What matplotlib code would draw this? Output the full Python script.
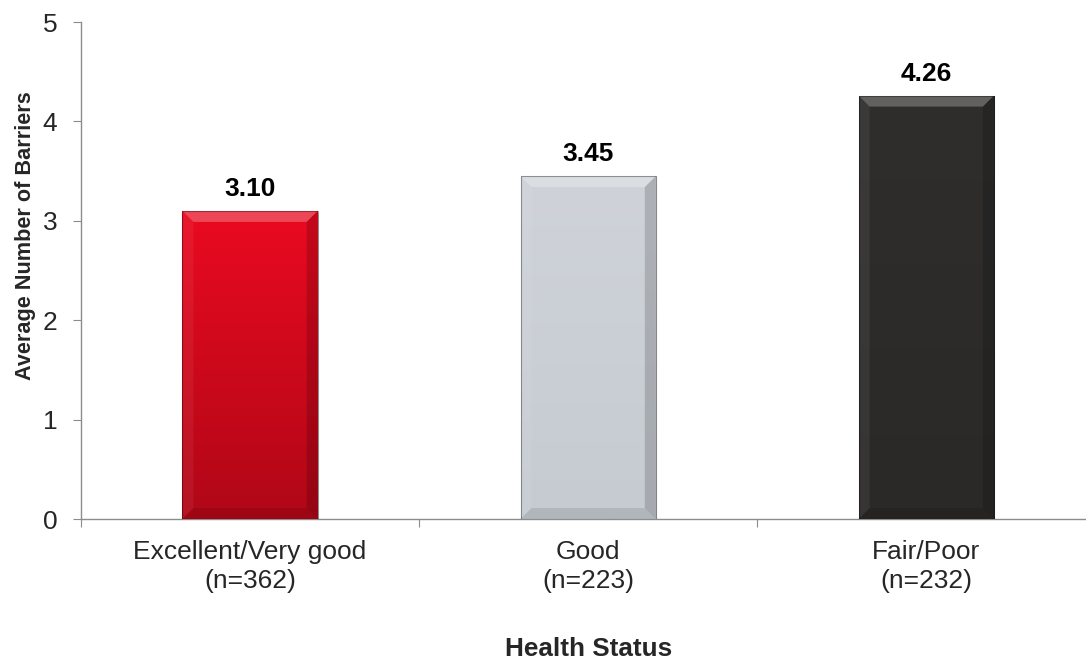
import numpy as np
import matplotlib.pyplot as plt
from matplotlib.patches import Rectangle, Polygon
from matplotlib.colors import LinearSegmentedColormap

plt.rcParams['font.family'] = ['Liberation Sans', 'DejaVu Sans']

categories = ["Excellent/Very good\n(n=362)", "Good\n(n=223)", "Fair/Poor\n(n=232)"]
values = [3.10, 3.45, 4.26]
# top / bottom colours of each bar's gradient
top_colors = ["#ea0a20", "#cfd3d9", "#2f2e2d"]
bottom_colors = ["#b00717", "#c6cbd2", "#2a2928"]

fig = plt.figure(figsize=(10.86, 6.6), dpi=100)
ax = fig.add_axes([0.0746, 0.2136, 0.934, 0.753])

x = np.arange(len(values))
width = 0.40
ax.set_xlim(-0.5, 2.5)
ax.set_ylim(0, 5)

# bevel size in pixels, converted to data units
fig_w, fig_h = fig.get_size_inches() * fig.dpi
pos = ax.get_position()
bev = 11
bx = bev * 3.0 / (pos.width * fig_w)
by = bev * 5.0 / (pos.height * fig_h)

for xi, v, ct, cb in zip(x, values, top_colors, bottom_colors):
    x0, x1 = xi - width / 2, xi + width / 2
    # drop shadow
    ax.add_patch(Rectangle((x0 + 0.004, -0.02), width, v, facecolor="#000000",
                           alpha=0.15, edgecolor="none", zorder=2))
    rect = Rectangle((x0, 0), width, v, facecolor="none", edgecolor="none", zorder=3)
    ax.add_patch(rect)
    cmap = LinearSegmentedColormap.from_list("g", [cb, ct])
    grad = np.linspace(0, 1, 256).reshape(-1, 1)
    im = ax.imshow(grad, cmap=cmap, aspect="auto", origin="lower",
                   extent=[x0, x1, 0, v], zorder=3)
    im.set_clip_path(rect)
    # bevel edges: top light, sides darker
    ax.add_patch(Polygon([(x0, v), (x1, v), (x1 - bx, v - by), (x0 + bx, v - by)],
                         closed=True, facecolor="white", alpha=0.25, edgecolor="none", zorder=4))
    ax.add_patch(Polygon([(x0, 0), (x0, v), (x0 + bx, v - by), (x0 + bx, by)],
                         closed=True, facecolor="white", alpha=0.06, edgecolor="none", zorder=4))
    ax.add_patch(Polygon([(x1, 0), (x1, v), (x1 - bx, v - by), (x1 - bx, by)],
                         closed=True, facecolor="black", alpha=0.16, edgecolor="none", zorder=4))
    ax.add_patch(Polygon([(x0, 0), (x1, 0), (x1 - bx, by), (x0 + bx, by)],
                         closed=True, facecolor="black", alpha=0.10, edgecolor="none", zorder=4))
    ax.add_patch(Rectangle((x0, 0), width, v, facecolor="none", edgecolor="#000000",
                           alpha=0.35, linewidth=0.8, zorder=5))
    ax.text(xi, v + 0.10, f"{v:.2f}", ha="center", va="bottom",
            fontsize=19, fontweight="bold", color="black")

for s in ["top", "right"]:
    ax.spines[s].set_visible(False)
for s in ["left", "bottom"]:
    ax.spines[s].set_color("#8c8c8c")
    ax.spines[s].set_linewidth(1.0)

ax.set_yticks(range(0, 6))
ax.set_xticks([-0.5, 0.5, 1.5, 2.5], minor=False)
ax.set_xticklabels([])
ax.set_xticks(x, minor=True)
ax.set_xticklabels(categories, minor=True, fontsize=19, linespacing=1.28, color="#262626")
ax.tick_params(axis="x", which="major", length=6, color="#8c8c8c", direction="out")
ax.tick_params(axis="x", which="minor", length=0, pad=15)
ax.tick_params(axis="y", length=6, color="#8c8c8c", labelsize=19, pad=11,
               labelcolor="#262626")

ax.set_ylabel("Average Number of Barriers", fontsize=15.6, fontweight="bold",
              color="#262626", va="center")
ax.yaxis.set_label_coords(-0.055, 0.571)
ax.set_xlabel("Health Status", fontsize=18.8, fontweight="bold", color="#262626",
              va="center")
ax.xaxis.set_label_coords(0.5, -0.262)

fig.savefig("out.png", dpi=100)
